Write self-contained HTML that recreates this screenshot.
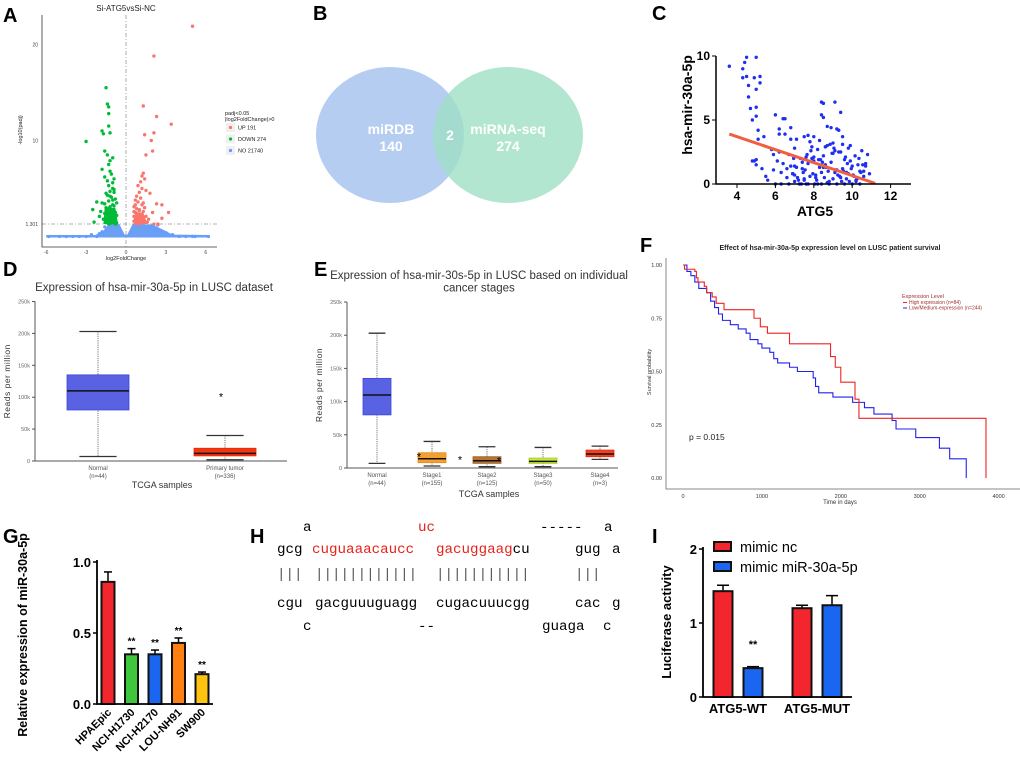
<!DOCTYPE html>
<html><head><meta charset="utf-8"><style>
body{margin:0;background:#fff}
svg{display:block;font-family:"Liberation Sans",sans-serif}
.lbl{font-weight:bold;font-size:20px}
.mono{font-family:"Liberation Mono",monospace;font-size:14.2px}
</style></head><body>
<svg id="fig" width="1020" height="760" viewBox="0 0 1020 760">
<rect width="1020" height="760" fill="#fff"/>
<text class="lbl" x="3" y="22">A</text>
<text class="lbl" x="313" y="20">B</text>
<text class="lbl" x="652" y="20">C</text>
<text class="lbl" x="3" y="276">D</text>
<text class="lbl" x="314" y="276">E</text>
<text class="lbl" x="640" y="252">F</text>
<text class="lbl" x="3" y="543">G</text>
<text class="lbl" x="250" y="543">H</text>
<text class="lbl" x="652" y="543">I</text>

<!-- Venn B -->
<g>
<ellipse cx="390" cy="135" rx="74" ry="68" fill="#a9c4f0" opacity="0.85"/>
<ellipse cx="508" cy="135" rx="75" ry="68" fill="#9fe0c4" opacity="0.8"/>
<text x="391" y="134" fill="#fff" font-weight="bold" font-size="14" text-anchor="middle">miRDB</text>
<text x="391" y="151" fill="#fff" font-weight="bold" font-size="14" text-anchor="middle">140</text>
<text x="450" y="140" fill="#fff" font-weight="bold" font-size="14" text-anchor="middle">2</text>
<text x="508" y="134" fill="#fff" font-weight="bold" font-size="14" text-anchor="middle">miRNA-seq</text>
<text x="508" y="151" fill="#fff" font-weight="bold" font-size="14" text-anchor="middle">274</text>
</g>

<!-- H sequences -->
<g class="mono">
<text x="303" y="531">a</text>
<text x="418" y="531" fill="#e8221a">uc</text>
<text x="540" y="531">-----</text>
<text x="604" y="531">a</text>
<text x="277" y="553">gcg</text>
<text x="312" y="553" fill="#e8221a">cuguaaacaucc</text>
<text x="436" y="553"><tspan fill="#e8221a">gacuggaag</tspan>cu</text>
<text x="575" y="553">gug</text>
<text x="612" y="553">a</text>
<text x="277" y="578" fill="#555">|||</text>
<text x="315" y="578" fill="#555">||||||||||||</text>
<text x="436" y="578" fill="#555">|||||||||||</text>
<text x="575" y="578" fill="#555">|||</text>
<text x="277" y="607">cgu</text>
<text x="315" y="607">gacguuuguagg</text>
<text x="436" y="607">cugacuuucgg</text>
<text x="575" y="607">cac</text>
<text x="612" y="607">g</text>
<text x="303" y="630">c</text>
<text x="418" y="630">--</text>
<text x="542" y="630">guaga</text>
<text x="603" y="630">c</text>
</g>
</svg>
<script>
const NS='http://www.w3.org/2000/svg';
const svg=document.getElementById('fig');
function mk(tag,at,par){const e=document.createElementNS(NS,tag);for(const k in at)e.setAttribute(k,at[k]);(par||svg).appendChild(e);return e;}
function tx(str,x,y,at,par){const e=mk('text',Object.assign({x:x,y:y},at||{}),par);e.textContent=str;return e;}

/* ---------- A: volcano ---------- */
const volUpLfc=[5.0,2.1,1.3,2.3,3.4,1.4,2.1,1.9,2.0,1.5,1.3,1.2,1.4,1.1,0.9,1.2,1.5,1.8,2.3,2.7,1.3,3.2,2.7,2.0,2.1,2.4,1.0,0.8,1.1,0.7,0.9,1.2,1.4,0.6,0.8,1.0,1.3,0.7,0.9,1.1,0.6,0.8,1.0,1.5,1.7,0.7,0.9,1.2,0.6,0.8,1.0,1.1,0.7,1.3,0.9,1.6,0.6,0.8,1.0,0.7];
const volUpP=[21.9,18.8,13.6,12.5,11.7,10.6,10.8,10.0,8.9,8.5,6.6,6.3,6.0,5.7,5.3,5.0,4.8,4.5,3.4,3.3,3.5,2.5,1.9,2.5,1.3,1.3,4.6,4.2,4.0,3.8,3.6,3.3,3.0,3.1,2.9,2.8,2.6,2.5,2.3,2.2,2.1,2.0,1.9,2.1,1.8,1.8,1.7,1.6,1.6,1.5,1.5,1.4,1.4,1.9,1.3,1.5,2.6,2.4,2.7,3.3];
const volDnLfc=[-1.5,-1.4,-1.3,-1.3,-1.3,-1.8,-1.7,-1.2,-3.0,-1.6,-1.4,-1.3,-1.8,-1.2,-1.6,-1.1,-1.4,-1.0,-0.9,-1.2,-1.8,-2.2,-1.5,-2.5,-2.4,-2.0,-1.0,-1.3,-0.8,-1.1,-1.3,-1.0,-0.9,-1.2,-1.5,-1.4,-1.1,-0.8,-1.0,-1.3,-1.6,-0.7,-0.9,-1.2,-1.4,-1.0,-0.8,-1.1,-1.3,-0.7,-0.9,-1.2,-1.5,-1.0,-0.8,-1.1,-1.4,-1.7,-0.9,-1.2,-0.7,-1.0,-1.3,-0.8,-1.1,-1.6,-1.9,-0.9,-1.2,-1.0];
const volDnP=[15.5,13.8,13.5,12.8,11.5,11.0,10.7,10.8,9.9,8.9,8.5,7.5,7.0,6.8,6.2,6.5,5.8,5.6,4.6,4.2,3.5,3.6,3.0,2.8,1.5,2.1,3.3,2.7,2.0,1.8,5.3,5.0,4.9,4.7,4.5,4.3,4.1,3.9,3.8,3.7,3.4,3.5,3.2,3.1,2.9,2.6,2.5,2.4,2.3,2.2,2.1,2.0,1.9,1.9,1.7,1.6,1.7,1.8,1.5,1.4,1.4,1.5,1.3,1.3,1.4,2.4,2.6,6.0,7.9,8.2];
const volNoLfc=[-5.8,-5.0,-4.5,-4.0,-3.5,-3.0,-2.6,-2.2,-1.8,-2.0,-1.6,1.8,2.2,2.6,3.0,3.5,4.0,4.5,5.0,5.2,6.2,2.4,2.0];
const volNoP=[0.0,0.0,0.0,0.0,0.0,0.0,0.2,0.0,0.5,0.3,1.0,1.0,0.8,0.6,0.4,0.2,0.0,0.0,0.0,0.0,0.0,1.2,1.1];
const volXTicks=[-6,-3,0,3,6];
const volYTicks=[1.301,10,20];
const vx=v=>126+v*13.3, vy=v=>236.5-v*9.6;
const gA=mk('g',{});


let t=tx('Si-ATG5vsSi-NC',126,11,{'font-size':8,'text-anchor':'middle',fill:'#222'},gA);


let l=mk('line',{x1:vx(0),x2:vx(0),y1:15,y2:247,stroke:'#999','stroke-dasharray':'4 2 1 2','stroke-width':0.8},gA);


l=mk('line',{x1:42,x2:217,y1:vy(1.301),y2:vy(1.301),stroke:'#999','stroke-dasharray':'4 2 1 2','stroke-width':0.8},gA);


// dense non-significant band
let band=mk('path',{d:`M${vx(-6)} ${vy(-0.1)} L${vx(6.2)} ${vy(-0.1)} L${vx(6.2)} ${vy(0.15)} L${vx(3.5)} ${vy(0.2)} L${vx(2.8)} ${vy(0.7)} L${vx(2.0)} ${vy(1.25)} L${vx(0.5)} ${vy(1.3)} L${vx(0.1)} ${vy(0.2)} L${vx(-0.1)} ${vy(0.2)} L${vx(-0.5)} ${vy(1.3)} L${vx(-1.3)} ${vy(1.3)} L${vx(-1.7)} ${vy(0.6)} L${vx(-2.3)} ${vy(0.15)} L${vx(-6)} ${vy(0.15)} Z`,fill:'#6a9ff5'},gA);


volNoLfc.forEach((v,i)=>{const c=mk('circle',{cx:vx(v),cy:vy(volNoP[i]),r:1.6,fill:'#619cff'},gA);

});
// dense green / red cores
let core=mk('path',{d:`M${vx(-1.7)} ${vy(1.3)} L${vx(-0.6)} ${vy(1.3)} L${vx(-0.8)} ${vy(3)} L${vx(-1.6)} ${vy(3)} Z`,fill:'#00ba38'},gA);


core=mk('path',{d:`M${vx(0.6)} ${vy(1.3)} L${vx(1.6)} ${vy(1.3)} L${vx(1.3)} ${vy(2.5)} L${vx(0.7)} ${vy(2.5)} Z`,fill:'#f8766d'},gA);


volDnLfc.forEach((v,i)=>{const c=mk('circle',{cx:vx(v),cy:vy(volDnP[i]),r:1.7,fill:'#00ba38'},gA);

});
volUpLfc.forEach((v,i)=>{const c=mk('circle',{cx:vx(v),cy:vy(volUpP[i]),r:1.7,fill:'#f8766d'},gA);

});
l=mk('path',{d:'M42 15 V247 H217',fill:'none',stroke:'#333','stroke-width':0.8},gA);


volXTicks.forEach(v=>{const e=tx(String(v),vx(v),254,{'font-size':5,'text-anchor':'middle',fill:'#444'},gA);

});
volYTicks.forEach(v=>{const e=tx(String(v),38,vy(v)+2,{'font-size':5,'text-anchor':'end',fill:'#444'},gA);

});
t=tx('log2FoldChange',126,260,{'font-size':5.5,'text-anchor':'middle',fill:'#222'},gA);


t=tx('-log10(padj)',0,0,{'font-size':5.5,'text-anchor':'middle',fill:'#222',transform:'translate(22,130) rotate(-90)'},gA);


t=tx('padj<0.05',225,115,{'font-size':5.5,fill:'#222'},gA);


t=tx('|log2FoldChange|>0',225,121,{'font-size':5.5,fill:'#222'},gA);


const volLegend=['UP 191','DOWN 274','NO 21740'];
const volLegendCol=['#f8766d','#00ba38','#619cff'];
volLegend.forEach((s,i)=>{const y=128+i*11.5;
const r=mk('rect',{x:226,y:y-5,width:9,height:9,fill:'#f0f0f0'},gA);


const c=mk('circle',{cx:230.5,cy:y-0.5,r:1.6,fill:volLegendCol[i]},gA);


const e=tx(s,238,y+1.5,{'font-size':5.5,fill:'#222'},gA);

});

/* ---------- C: scatter ---------- */
const scATG5=[3.6,4.3,4.4,4.5,5.0,4.3,4.5,4.9,5.2,5.2,4.6,5.0,4.6,4.7,5.0,4.8,5.0,5.1,5.1,5.4,4.9,5.0,4.8,5.0,5.3,5.5,5.6,5.9,6.0,6.4,6.5,6.2,6.2,6.5,6.8,6.8,7.1,7.0,5.8,6.2,6.1,6.4,6.3,6.6,6.6,6.9,5.9,6.0,6.3,6.7,7.0,8.4,8.5,9.1,8.4,8.5,9.4,8.9,9.2,9.3,8.7,7.5,7.7,8.0,9.5,9.9,10.5,10.8,10.7,10.9,
7.2,7.4,7.6,7.8,8.0,8.2,8.4,8.6,8.8,9.0,9.2,9.4,9.6,9.8,10.0,10.2,10.4,7.3,7.5,7.7,7.9,8.1,8.3,8.5,8.7,8.9,9.1,9.3,9.5,9.7,9.9,10.1,10.3,10.6,7.1,7.35,7.65,7.95,8.25,8.55,8.85,9.15,9.45,9.75,10.05,10.35,7.0,7.45,7.85,8.15,8.45,8.75,9.05,9.35,9.65,9.95,10.25,10.55,6.9,7.25,7.55,7.8,8.1,8.35,8.65,8.95,9.25,9.55,9.85,10.15,10.45,6.8,7.15,7.6,8.05,8.4,8.8,9.2,9.6,10.0,10.4,7.7,8.2,8.6,9.0,9.4,9.8,7.4,7.9,8.3,8.7,9.1,9.5,6.7,6.95,10.7,10.6,8.0,8.5,9.0,7.0,7.5,9.7,10.2];
const scMir=[9.2,9.0,9.5,9.9,9.9,8.3,8.4,8.3,8.4,7.9,7.7,7.4,6.8,5.9,6.0,5.0,5.3,4.2,3.5,3.7,1.8,1.9,1.8,1.5,1.2,0.6,0.3,2.3,5.4,5.1,5.1,4.3,3.9,3.9,4.4,3.5,3.5,2.8,2.7,2.5,1.8,1.6,0.9,1.2,0.5,0.8,1.1,0,0,0,0.2,6.4,6.3,6.4,5.4,5.2,5.6,4.4,4.3,4.2,4.5,3.7,3.8,3.7,3.7,3.0,2.6,2.3,1.6,0.8,
0.3,1.2,2.1,0.6,1.8,2.7,0.9,1.5,0.2,2.4,1.1,0.5,1.9,0.8,1.4,0.3,1.0,2.0,0.4,1.6,2.9,0.7,1.3,2.2,0.1,1.7,0.9,2.5,1.2,0.4,1.8,0.6,1.5,1.0,1.3,0.0,2.3,0.8,1.9,0.5,3.1,1.1,0.2,1.6,0.7,2.0,1.4,0.9,2.6,0.3,1.7,1.0,2.8,0.6,2.1,1.2,0.4,1.5,0.8,0.0,1.1,3.3,0.5,1.9,1.3,2.4,0.7,1.0,0.2,2.2,0.9,1.4,0.5,0.0,0.0,0.0,0.0,0.0,0.0,0.0,0.0,0.0,0.0,2.9,3.2,2.5,2.8,1.7,2.0,3.4,3.0,2.6,3.1,2.3,2.0,1.4,0.6,2.1,1.3,0.4,0.7,0.3,0.9,0.2,0.8,0.5];
const regX=[3.6,11.2];
const regY=[3.9,0.05];
const cXTicks=[4,6,8,10,12];
const cYTicks=[0,5,10];
const cx=v=>737+(v-4)*19.2, cy=v=>184-v*12.8;
const gC=mk('g',{});


scATG5.forEach((v,i)=>{const c=mk('circle',{cx:cx(v),cy:cy(scMir[i]),r:1.7,fill:'#1f2ff0'},gC);

});
l=mk('line',{x1:cx(regX[0]),y1:cy(regY[0]),x2:cx(regX[1]),y2:cy(regY[1]),stroke:'#f06040','stroke-width':3},gC);


l=mk('path',{d:'M716 56 V184 H911',fill:'none',stroke:'#000','stroke-width':1.5},gC);


cXTicks.forEach(v=>{mk('line',{x1:cx(v),x2:cx(v),y1:184,y2:188,stroke:'#000'},gC);
const e=tx(String(v),cx(v),200,{'font-size':12,'font-weight':'bold','text-anchor':'middle'},gC);

});
cYTicks.forEach(v=>{mk('line',{x1:712,x2:716,y1:cy(v),y2:cy(v),stroke:'#000'},gC);
const e=tx(String(v),710,cy(v)+4,{'font-size':12,'font-weight':'bold','text-anchor':'end'},gC);

});
t=tx('ATG5',815,216,{'font-size':14,'font-weight':'bold','text-anchor':'middle'},gC);


t=tx('hsa-mir-30a-5p',0,0,{'font-size':14,'font-weight':'bold','text-anchor':'middle',transform:'translate(692,105) rotate(-90)'},gC);



/* ---------- D & E: box plots ---------- */
const dCats=['Normal','Primary tumor'];
const dN=['(n=44)','(n=336)'];
const dLo=[7,2], dQ1=[80,8], dMed=[110,12], dQ3=[135,20], dHi=[203,40];
const dOut=[null,103];
const eCats=['Normal','Stage1','Stage2','Stage3','Stage4'];
const eN=['(n=44)','(n=155)','(n=125)','(n=50)','(n=3)'];
const eLo=[7,3,2,2,13], eQ1=[80,8,7,7,17], eMed=[110,14,11,10,21], eQ3=[135,23,17,15,27], eHi=[203,40,32,31,33];
const boxTicks=[0,50,100,150,200,250];
const tickLab=['0','50k','100k','150k','200k','250k'];
function boxPanel(o){
 const g=mk('g',{});
 
 
 const y=v=>o.y0-v*o.k;
 o.title.forEach((s,i)=>{const e=tx(s,o.tx,o.ty+i*12.5,{'font-size':11.5,'text-anchor':'middle',fill:'#333'},g);
 
 });
 mk('path',{d:`M${o.x0} ${y(250)} V${o.y0} H${o.x1}`,fill:'none',stroke:'#555','stroke-width':1},g);
 boxTicks.forEach((v,i)=>{mk('line',{x1:o.x0-3,x2:o.x0,y1:y(v),y2:y(v),stroke:'#555'},g);
 const e=tx(tickLab[i],o.x0-5,y(v)+2,{'font-size':5.5,'text-anchor':'end',fill:'#666'},g);
 
 });
 o.cats.forEach((c,i)=>{const x=o.xs[i],w=o.hw;
  mk('line',{x1:x,x2:x,y1:y(o.hi[i]),y2:y(o.lo[i]),stroke:'#777','stroke-dasharray':'1.2 1'},g);
  mk('line',{x1:x-w*0.6,x2:x+w*0.6,y1:y(o.hi[i]),y2:y(o.hi[i]),stroke:'#333','stroke-width':1.3},g);
  mk('line',{x1:x-w*0.6,x2:x+w*0.6,y1:y(o.lo[i]),y2:y(o.lo[i]),stroke:'#333','stroke-width':1.3},g);
  const b=mk('rect',{x:x-w,y:y(o.q3[i]),width:2*w,height:y(o.q1[i])-y(o.q3[i]),fill:o.cols[i],stroke:o.edge[i],'stroke-width':0.8},g);
  
  
  mk('line',{x1:x-w,x2:x+w,y1:y(o.med[i]),y2:y(o.med[i]),stroke:'#111','stroke-width':1.5},g);
  let e=tx(c,x,o.y0+9,{'font-size':6,'text-anchor':'middle',fill:'#555'},g);
  
  
  e=tx(o.n[i],x,o.y0+17,{'font-size':6,'text-anchor':'middle',fill:'#555'},g);
  
  
 });
 o.stars.forEach(s=>{const e=tx('*',s[0],y(s[1])+5,{'font-size':11,'text-anchor':'middle'},g);
 
 });
 let e=tx('TCGA samples',o.lx,o.ly,{'font-size':9,'text-anchor':'middle',fill:'#333'},g);
 
 
 e=tx('Reads per million',0,0,{'font-size':8.5,'text-anchor':'middle',fill:'#333','letter-spacing':'0.5',transform:`translate(${o.yl},${y(125)}) rotate(-90)`},g);
 
 
}
boxPanel({name:'boxplot-lusc',y0:461,k:0.638,x0:35,x1:287,xs:[98,225],hw:31,cats:dCats,n:dN,lo:dLo,q1:dQ1,med:dMed,q3:dQ3,hi:dHi,
 cols:['#5a62e4','#f2360f'],edge:['#3d47d6','#e62808'],title:['Expression of hsa-mir-30a-5p in LUSC dataset'],tx:154,ty:291,
 stars:[[221,dOut[1]]],lx:162,ly:488,yl:10});
boxPanel({name:'boxplot-lusc-stages',y0:468,k:0.664,x0:347,x1:618,xs:[377,432,487,543,600],hw:14,cats:eCats,n:eN,lo:eLo,q1:eQ1,med:eMed,q3:eQ3,hi:eHi,
 cols:['#5a62e4','#f4a030','#b87432','#c6e838','#f2421e'],edge:['#3d47d6','#e08a20','#9a5c20','#a8c820','#e02a10'],title:['Expression of hsa-mir-30s-5p in LUSC based on individual','cancer stages'],tx:479,ty:279,
 stars:[[419,19],[460,14],[499,13]],lx:489,ly:497,yl:322});

/* ---------- F: KM ---------- */
const kmHighT=[0,20,150,170,190,270,300,370,420,520,900,980,1070,1350,1870,1930,2000,2180,2230,3840];
const kmHighS=[1,0.98,0.97,0.94,0.92,0.90,0.87,0.85,0.82,0.79,0.75,0.71,0.68,0.63,0.57,0.52,0.45,0.37,0.28,0];
const kmLowT=[0,50,100,150,200,300,350,400,450,500,600,700,800,850,950,1000,1100,1150,1200,1350,1450,1650,1680,1720,1900,2150,2300,2420,2650,2700,2950,3250,3380,3590];
const kmLowS=[1,0.97,0.95,0.92,0.89,0.87,0.83,0.80,0.77,0.74,0.72,0.70,0.68,0.65,0.63,0.61,0.59,0.56,0.54,0.52,0.50,0.47,0.43,0.40,0.38,0.355,0.33,0.30,0.27,0.23,0.19,0.14,0.09,0];
const fXTicks=[0,1000,2000,3000,4000];
const fYTicks=[0,0.25,0.5,0.75,1];
const fYLab=['0.00','0.25','0.50','0.75','1.00'];
const fx=v=>683+v*0.0789, fy=v=>478-v*213;
const gF=mk('g',{});


t=tx('Effect of hsa-mir-30a-5p expression level on LUSC patient survival',830,250,{'font-size':7,'font-weight':'bold','text-anchor':'middle',fill:'#222'},gF);


l=mk('path',{d:'M666 258 V489 H1020',fill:'none',stroke:'#888','stroke-width':1},gF);


fXTicks.forEach(v=>{const e=tx(String(v),fx(v),498,{'font-size':5.5,'text-anchor':'middle',fill:'#333'},gF);

});
fYTicks.forEach((v,i)=>{const e=tx(fYLab[i],662,fy(v)+2,{'font-size':5.5,'text-anchor':'end',fill:'#333'},gF);

});
function km(T,S,col,nm){let d=`M${fx(T[0])} ${fy(S[0])}`;for(let i=1;i<T.length;i++)d+=` H${fx(T[i])} V${fy(S[i])}`;
 const p=mk('path',{d:d,fill:'none',stroke:col,'stroke-width':1.1},gF);
 
 }
km(kmLowT,kmLowS,'#2222ee','survival-curve-low');
km(kmHighT,kmHighS,'#ee2222','survival-curve-high');
t=tx('Time in days',840,504,{'font-size':6,'text-anchor':'middle',fill:'#333'},gF);


t=tx('Survival probability',0,0,{'font-size':5.5,'text-anchor':'middle',fill:'#333',transform:'translate(651,372) rotate(-90)'},gF);


t=tx('p = 0.015',689,440,{'font-size':8.5,fill:'#222'},gF);


t=tx('Expression Level',902,298,{'font-size':5.5,fill:'#a03030'},gF);


const fLeg=['High expression (n=84)','Low/Medium-expression (n=244)'];
const fLegCol=['#ee2222','#2222ee'];
fLeg.forEach((s,i)=>{const y=304+i*5.5;mk('line',{x1:903,x2:907,y1:y-1.5,y2:y-1.5,stroke:fLegCol[i],'stroke-width':1},gF);
const e=tx(s,909,y,{'font-size':5,fill:'#a03030'},gF);

});

/* ---------- G: bar chart ---------- */
const gCats=['HPAEpic','NCI-H1730','NCI-H2170','LOU-NH91','SW900'];
const gVals=[0.86,0.35,0.35,0.43,0.21];
const gErr=[0.07,0.04,0.03,0.035,0.015];
const gSig=['','**','**','**','**'];
const gCols=['#f2262c','#3ec63c','#1a66f0','#ff8010','#ffc410'];
const gTicks=[0,0.5,1.0];
const gx=i=>108+i*23.5, gy=v=>704-v*142;
const gG=mk('g',{});


gCats.forEach((c,i)=>{const x=gx(i),y=gy(gVals[i]),ye=gy(gVals[i]+gErr[i]);
 mk('line',{x1:x,x2:x,y1:ye,y2:y,stroke:'#000','stroke-width':1.5},gG);
 mk('line',{x1:x-4,x2:x+4,y1:ye,y2:ye,stroke:'#000','stroke-width':1.5},gG);
 const b=mk('rect',{x:x-6.5,y:y,width:13,height:704-y,fill:gCols[i],stroke:'#111','stroke-width':2},gG);
 
 
 if(gSig[i]){const e=tx(gSig[i],x,ye-4,{'font-size':10,'font-weight':'bold','text-anchor':'middle'},gG);
 
 }
 const e=tx(c,0,0,{'font-size':11,'font-weight':'bold','text-anchor':'end',transform:`translate(${x+4},${713}) rotate(-45)`},gG);
 
 });
l=mk('path',{d:'M97 560 V704 H213',fill:'none',stroke:'#000','stroke-width':1.8},gG);


gTicks.forEach(v=>{mk('line',{x1:93,x2:97,y1:gy(v),y2:gy(v),stroke:'#000','stroke-width':1.5},gG);
const e=tx(v.toFixed(1),91,gy(v)+5,{'font-size':13,'font-weight':'bold','text-anchor':'end'},gG);

});
t=tx('Relative expression of miR-30a-5p',0,0,{'font-size':12.5,'font-weight':'bold','text-anchor':'middle',transform:'translate(27,635) rotate(-90)'},gG);



/* ---------- I: luciferase ---------- */
const iGroups=['ATG5-WT','ATG5-MUT'];
const iSeries=['mimic nc','mimic miR-30a-5p'];
const iNc=[1.43,1.20];
const iMimic=[0.39,1.24];
const iNcErr=[0.08,0.04];
const iMimicErr=[0.02,0.13];
const iSig=['**',''];
const iCols=['#f2262c','#1a66f0'];
const iTicks=[0,1,2];
const iy=v=>697-v*74;
const gI=mk('g',{});


iGroups.forEach((g,gi)=>{const base=723+gi*79;
 [iNc,iMimic].forEach((arr,si)=>{const err=si?iMimicErr:iNcErr;const x=base+si*30,y=iy(arr[gi]),ye=iy(arr[gi]+err[gi]);
  mk('line',{x1:x,x2:x,y1:ye,y2:y,stroke:'#000','stroke-width':1.5},gI);
  mk('line',{x1:x-6,x2:x+6,y1:ye,y2:ye,stroke:'#000','stroke-width':1.5},gI);
  const b=mk('rect',{x:x-9.5,y:y,width:19,height:697-y,fill:iCols[si],stroke:'#111','stroke-width':2},gI);
  
  
  if(si&&iSig[gi]){const e=tx(iSig[gi],x,iy(arr[gi])-20,{'font-size':11,'font-weight':'bold','text-anchor':'middle'},gI);
  
  }
 });
 const e=tx(g,base+15,713,{'font-size':13,'font-weight':'bold','text-anchor':'middle'},gI);
 
 });
l=mk('path',{d:'M703 547 V697 H852',fill:'none',stroke:'#000','stroke-width':1.8},gI);


iTicks.forEach(v=>{mk('line',{x1:699,x2:703,y1:iy(v),y2:iy(v),stroke:'#000','stroke-width':1.5},gI);
const e=tx(String(v),697,iy(v)+5,{'font-size':13,'font-weight':'bold','text-anchor':'end'},gI);

});
t=tx('Luciferase activity',0,0,{'font-size':13,'font-weight':'bold','text-anchor':'middle',transform:'translate(671,622) rotate(-90)'},gI);


iSeries.forEach((s,i)=>{const y=542+i*20;
const r=mk('rect',{x:714,y:y,width:17,height:9,fill:iCols[i],stroke:'#111','stroke-width':2},gI);


const e=tx(s,740,y+10,{'font-size':14.5},gI);

});
</script>
</body></html>
